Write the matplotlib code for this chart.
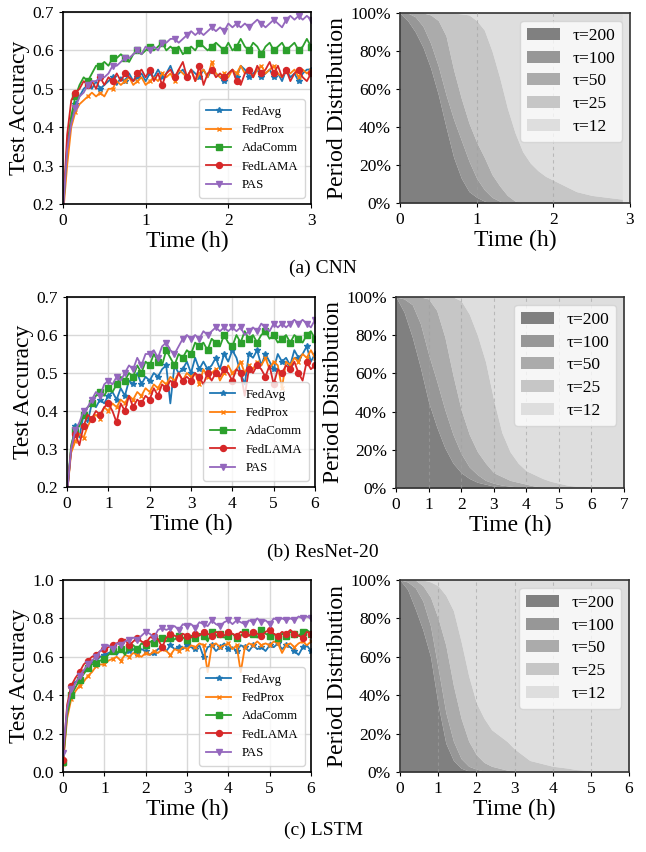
import numpy as np
import matplotlib
matplotlib.use("Agg")
import matplotlib.pyplot as plt

plt.rcParams['font.family'] = ['Liberation Serif', 'DejaVu Serif']
plt.rcParams['mathtext.fontset'] = 'stix'

methods = ["FedAvg", "FedProx", "AdaComm", "FedLAMA", "PAS"]
periods = ["τ=200", "τ=100", "τ=50", "τ=25", "τ=12"]

# ---------------- CNN ----------------
cnn_time = np.round(np.arange(0, 3.0001, 0.05), 3)
cnn_fedavg = [0.18, 0.33, 0.42, 0.46, 0.48, 0.50, 0.51, 0.50, 0.52, 0.50, 0.51, 0.52, 0.53, 0.51, 0.53, 0.52,
              0.54, 0.52, 0.53, 0.54, 0.52, 0.54, 0.53, 0.55, 0.53, 0.54, 0.56, 0.53, 0.54, 0.55, 0.53, 0.55,
              0.54, 0.53, 0.55, 0.53, 0.55, 0.54, 0.53, 0.52, 0.54, 0.55, 0.53, 0.56, 0.55, 0.53, 0.54, 0.55,
              0.53, 0.54, 0.55, 0.53, 0.54, 0.52, 0.55, 0.53, 0.54, 0.52, 0.54, 0.55, 0.55]
cnn_fedprox = [0.17, 0.30, 0.40, 0.44, 0.46, 0.47, 0.48, 0.49, 0.48, 0.49, 0.48, 0.50, 0.50, 0.52, 0.51, 0.52,
               0.53, 0.51, 0.52, 0.53, 0.51, 0.52, 0.53, 0.52, 0.54, 0.53, 0.54, 0.52, 0.55, 0.54, 0.53, 0.55,
               0.52, 0.54, 0.55, 0.53, 0.57, 0.54, 0.53, 0.54, 0.53, 0.55, 0.54, 0.56, 0.54, 0.55, 0.53, 0.55,
               0.56, 0.54, 0.55, 0.56, 0.54, 0.53, 0.55, 0.54, 0.55, 0.53, 0.55, 0.54, 0.55]
cnn_adacomm = [0.18, 0.35, 0.43, 0.48, 0.51, 0.53, 0.52, 0.54, 0.56, 0.56, 0.57, 0.56, 0.58, 0.58, 0.59, 0.58,
               0.57, 0.59, 0.60, 0.59, 0.60, 0.61, 0.60, 0.61, 0.62, 0.60, 0.61, 0.60, 0.61, 0.59, 0.60, 0.61,
               0.60, 0.62, 0.61, 0.60, 0.61, 0.62, 0.61, 0.60, 0.62, 0.60, 0.61, 0.63, 0.61, 0.60, 0.62, 0.61,
               0.59, 0.61, 0.62, 0.60, 0.61, 0.62, 0.60, 0.61, 0.62, 0.60, 0.61, 0.63, 0.61]
cnn_fedlama = [0.18, 0.38, 0.47, 0.49, 0.50, 0.52, 0.51, 0.52, 0.50, 0.53, 0.51, 0.53, 0.52, 0.54, 0.52, 0.54,
               0.53, 0.52, 0.54, 0.55, 0.53, 0.55, 0.52, 0.54, 0.51, 0.54, 0.55, 0.53, 0.55, 0.57, 0.53, 0.55,
               0.52, 0.56, 0.51, 0.54, 0.55, 0.53, 0.54, 0.53, 0.54, 0.55, 0.52, 0.51, 0.54, 0.55, 0.53, 0.56,
               0.54, 0.55, 0.57, 0.54, 0.56, 0.53, 0.55, 0.52, 0.54, 0.55, 0.53, 0.52, 0.54]
cnn_pas = [0.18, 0.34, 0.41, 0.45, 0.48, 0.49, 0.51, 0.52, 0.52, 0.53, 0.53, 0.54, 0.56, 0.56, 0.57, 0.58,
           0.58, 0.59, 0.60, 0.59, 0.61, 0.60, 0.61, 0.60, 0.62, 0.62, 0.63, 0.63, 0.62, 0.63, 0.64, 0.65,
           0.64, 0.65, 0.64, 0.65, 0.66, 0.65, 0.66, 0.65, 0.67, 0.66, 0.67, 0.66, 0.67, 0.66, 0.67, 0.68,
           0.67, 0.66, 0.67, 0.68, 0.67, 0.66, 0.68, 0.69, 0.68, 0.69, 0.68, 0.69, 0.68]

cnn_ptime = np.round(np.arange(0, 2.9001, 0.1), 3)
cnn_tau200_top = [100, 96, 90, 82, 71, 57, 40, 24, 13, 6, 3, 1, 0, 0, 0, 0, 0, 0, 0, 0, 0, 0, 0, 0, 0, 0, 0, 0, 0, 0]
cnn_tau100_top = [100, 100, 98, 93, 84, 72, 57, 44, 33, 22, 13, 7, 3, 1, 0, 0, 0, 0, 0, 0, 0, 0, 0, 0, 0, 0, 0, 0, 0, 0]
cnn_tau50_top = [100, 100, 100, 100, 99, 96, 88, 70, 55, 42, 32, 24, 15, 9, 4, 1, 0, 0, 0, 0, 0, 0, 0, 0, 0, 0, 0, 0, 0, 0]
cnn_tau25_top = [100, 100, 100, 100, 100, 100, 100, 100, 99.5, 99, 96, 91, 80, 66, 50, 37, 27, 21, 17, 14,
                 12, 10, 8, 6, 5, 4, 3.5, 3, 2.5, 2]

# ---------------- ResNet-20 ----------------
res_time = np.round(np.arange(0, 6.0001, 0.1), 3)
res_fedavg = [0.18, 0.30, 0.36, 0.33, 0.39, 0.37, 0.42, 0.41, 0.43, 0.42, 0.44, 0.45, 0.43, 0.46, 0.44, 0.48,
              0.47, 0.50, 0.47, 0.49, 0.48, 0.50, 0.49, 0.51, 0.52, 0.42, 0.52, 0.50, 0.51, 0.53, 0.50, 0.54,
              0.51, 0.53, 0.51, 0.52, 0.54, 0.51, 0.55, 0.53, 0.56, 0.54, 0.50, 0.47, 0.55, 0.54, 0.56, 0.52,
              0.55, 0.53, 0.51, 0.55, 0.53, 0.54, 0.52, 0.56, 0.54, 0.55, 0.57, 0.53, 0.55]
res_fedprox = [0.18, 0.29, 0.32, 0.34, 0.33, 0.36, 0.38, 0.39, 0.38, 0.41, 0.40, 0.42, 0.41, 0.43, 0.42, 0.44,
               0.43, 0.45, 0.44, 0.46, 0.45, 0.47, 0.46, 0.48, 0.47, 0.49, 0.48, 0.50, 0.48, 0.50, 0.49, 0.50,
               0.47, 0.51, 0.49, 0.50, 0.51, 0.48, 0.50, 0.52, 0.50, 0.51, 0.53, 0.50, 0.52, 0.51, 0.53, 0.52,
               0.54, 0.51, 0.53, 0.52, 0.46, 0.53, 0.52, 0.54, 0.53, 0.55, 0.54, 0.56, 0.54]
res_adacomm = [0.18, 0.31, 0.35, 0.36, 0.39, 0.41, 0.42, 0.44, 0.45, 0.44, 0.46, 0.45, 0.47, 0.49, 0.48, 0.50,
               0.49, 0.52, 0.50, 0.53, 0.52, 0.55, 0.53, 0.52, 0.56, 0.54, 0.52, 0.55, 0.54, 0.56, 0.55, 0.58,
               0.57, 0.58, 0.56, 0.59, 0.58, 0.57, 0.60, 0.58, 0.57, 0.60, 0.58, 0.61, 0.59, 0.60, 0.58, 0.60,
               0.61, 0.59, 0.60, 0.58, 0.59, 0.60, 0.58, 0.60, 0.59, 0.58, 0.60, 0.61, 0.59]
res_fedlama = [0.18, 0.30, 0.34, 0.31, 0.36, 0.39, 0.38, 0.40, 0.39, 0.41, 0.42, 0.40, 0.37, 0.42, 0.40, 0.44,
               0.41, 0.43, 0.42, 0.44, 0.43, 0.46, 0.44, 0.47, 0.46, 0.48, 0.47, 0.50, 0.48, 0.49, 0.48, 0.50,
               0.49, 0.47, 0.50, 0.48, 0.50, 0.49, 0.51, 0.50, 0.48, 0.51, 0.50, 0.44, 0.51, 0.50, 0.52, 0.51,
               0.49, 0.52, 0.47, 0.51, 0.50, 0.52, 0.51, 0.53, 0.50, 0.48, 0.53, 0.51, 0.52]
res_pas = [0.18, 0.30, 0.35, 0.37, 0.40, 0.41, 0.43, 0.45, 0.44, 0.47, 0.48, 0.47, 0.49, 0.48, 0.50, 0.52,
           0.51, 0.54, 0.52, 0.55, 0.55, 0.56, 0.54, 0.57, 0.58, 0.56, 0.55, 0.57, 0.59, 0.60, 0.59, 0.60,
           0.59, 0.61, 0.60, 0.61, 0.62, 0.61, 0.62, 0.61, 0.62, 0.61, 0.62, 0.60, 0.61, 0.62, 0.61, 0.63,
           0.62, 0.61, 0.63, 0.62, 0.63, 0.62, 0.63, 0.64, 0.63, 0.64, 0.63, 0.62, 0.64]

res_ptime = np.round(np.arange(0, 7.0001, 0.25), 3)
res_tau200_top = [100, 92, 79, 63, 45, 32, 21, 13, 8, 5, 3, 2, 1, 0.5, 0, 0, 0, 0, 0, 0, 0, 0, 0, 0, 0, 0, 0, 0, 0]
res_tau100_top = [100, 99, 96, 86, 70, 56, 41, 28, 18, 11, 7, 4, 2.5, 1.5, 1, 0.5, 0, 0, 0, 0, 0, 0, 0, 0, 0, 0, 0, 0, 0]
res_tau50_top = [100, 100, 100, 100, 99, 93, 79, 59, 41, 28, 19, 13, 8, 6, 4, 3, 2, 1, 0.5, 0.3, 0, 0, 0, 0, 0, 0, 0, 0, 0]
res_tau25_top = [100, 100, 100, 100, 100, 100, 100, 100, 98, 91, 80, 66, 46, 29, 19, 13, 9, 7, 5, 3.5, 2.5,
                 1.5, 1, 1, 0.5, 0.5, 0.3, 0.2, 0.2]

# ---------------- LSTM ----------------
lstm_time = np.round(np.arange(0, 6.0001, 0.1), 3)
lstm_fedavg = [0.05, 0.32, 0.45, 0.47, 0.48, 0.52, 0.55, 0.57, 0.58, 0.60, 0.61, 0.62, 0.63, 0.61, 0.64, 0.62,
               0.63, 0.64, 0.62, 0.64, 0.63, 0.61, 0.62, 0.64, 0.65, 0.63, 0.66, 0.64, 0.65, 0.64, 0.66, 0.65,
               0.64, 0.66, 0.60, 0.65, 0.66, 0.63, 0.65, 0.67, 0.64, 0.65, 0.63, 0.66, 0.65, 0.63, 0.66, 0.64,
               0.65, 0.63, 0.66, 0.65, 0.67, 0.64, 0.66, 0.65, 0.63, 0.61, 0.65, 0.66, 0.63]
lstm_fedprox = [0.04, 0.28, 0.38, 0.42, 0.45, 0.47, 0.50, 0.52, 0.55, 0.56, 0.56, 0.58, 0.59, 0.60, 0.58, 0.61,
                0.60, 0.62, 0.61, 0.60, 0.62, 0.61, 0.63, 0.62, 0.64, 0.63, 0.61, 0.64, 0.63, 0.65, 0.64, 0.66,
                0.65, 0.67, 0.66, 0.52, 0.66, 0.67, 0.65, 0.66, 0.67, 0.64, 0.66, 0.52, 0.65, 0.67, 0.66, 0.68,
                0.66, 0.67, 0.66, 0.68, 0.67, 0.62, 0.66, 0.67, 0.65, 0.67, 0.68, 0.66, 0.68]
lstm_adacomm = [0.05, 0.30, 0.40, 0.44, 0.48, 0.51, 0.54, 0.56, 0.57, 0.58, 0.59, 0.61, 0.63, 0.62, 0.64, 0.61,
                0.65, 0.66, 0.64, 0.67, 0.66, 0.68, 0.67, 0.69, 0.70, 0.68, 0.70, 0.69, 0.71, 0.70, 0.69, 0.71,
                0.70, 0.72, 0.71, 0.68, 0.73, 0.71, 0.72, 0.70, 0.71, 0.72, 0.70, 0.71, 0.73, 0.71, 0.72, 0.70,
                0.74, 0.72, 0.71, 0.72, 0.70, 0.72, 0.71, 0.73, 0.72, 0.71, 0.73, 0.74, 0.72]
lstm_fedlama = [0.06, 0.35, 0.45, 0.49, 0.52, 0.56, 0.58, 0.60, 0.61, 0.63, 0.64, 0.65, 0.66, 0.67, 0.68, 0.69,
                0.66, 0.68, 0.70, 0.68, 0.67, 0.70, 0.71, 0.69, 0.65, 0.70, 0.72, 0.71, 0.70, 0.72, 0.71, 0.70,
                0.72, 0.71, 0.73, 0.72, 0.71, 0.73, 0.72, 0.71, 0.73, 0.72, 0.71, 0.73, 0.72, 0.71, 0.73, 0.72,
                0.71, 0.73, 0.74, 0.72, 0.71, 0.73, 0.72, 0.74, 0.72, 0.71, 0.70, 0.73, 0.72]
lstm_pas = [0.10, 0.33, 0.43, 0.46, 0.50, 0.53, 0.56, 0.58, 0.60, 0.63, 0.65, 0.66, 0.64, 0.67, 0.66, 0.68,
            0.69, 0.70, 0.69, 0.71, 0.73, 0.72, 0.70, 0.74, 0.75, 0.74, 0.75, 0.76, 0.74, 0.77, 0.76, 0.77,
            0.75, 0.78, 0.77, 0.76, 0.79, 0.77, 0.76, 0.78, 0.79, 0.77, 0.79, 0.78, 0.77, 0.79, 0.78, 0.80,
            0.78, 0.79, 0.77, 0.80, 0.79, 0.80, 0.79, 0.80, 0.79, 0.81, 0.80, 0.81, 0.80]

lstm_ptime = np.round(np.arange(0, 6.0001, 0.2), 3)
lstm_tau200_top = [100, 95, 85, 74, 60, 35, 15, 6, 2, 0.5, 0, 0, 0, 0, 0, 0, 0, 0, 0, 0, 0, 0, 0, 0, 0, 0, 0, 0, 0, 0, 0]
lstm_tau100_top = [100, 99, 96, 89, 76, 54, 31, 16, 7, 3, 1.5, 0.5, 0, 0, 0, 0, 0, 0, 0, 0, 0, 0, 0, 0, 0, 0, 0, 0, 0, 0, 0]
lstm_tau50_top = [100, 100, 100, 97, 91, 80, 66, 45, 28, 16, 9, 5, 3, 2, 1, 0.5, 0, 0, 0, 0, 0, 0, 0, 0, 0, 0, 0, 0, 0, 0, 0]
lstm_tau25_top = [100, 100, 100, 100, 99, 97, 92, 84, 68, 50, 36, 28, 22, 19, 16, 12, 9, 6, 5, 4, 3, 2.5, 2,
                  1.3, 1, 0.6, 0.3, 0.2, 0.1, 0, 0]

# ---------------- styling ----------------
colors = ["#1f77b4", "#ff7f0e", "#2ca02c", "#d62728", "#9467bd"]
markers = ["*", "x", "s", "o", "v"]
msizes = [4.0, 3.5, 4.0, 4.3, 4.5]
fill_colors = ["#808080", "#979797", "#ababab", "#c6c6c6", "#dedede"]

fig = plt.figure(figsize=(6.46, 8.52), dpi=100)
W, H = 646, 852


def add_axes(x0, x1, ytop, ybot):
    return fig.add_axes([x0 / W, 1 - ybot / H, (x1 - x0) / W, (ybot - ytop) / H])


def draw_acc(ax, t, series, xmax, ylim, yticks, markevery):
    for s, name, c, m, ms in zip(series, methods, colors, markers, msizes):
        ax.plot(t, s, color=c, marker=m, markersize=ms, markevery=markevery, lw=1.3,
                label=name, clip_on=True)
    ax.set_xlim(0, xmax)
    ax.set_ylim(*ylim)
    ax.set_yticks(yticks)
    ax.set_xticks(range(0, int(xmax) + 1))
    ax.grid(True, color="#d8d8d8", lw=1.0)
    ax.set_axisbelow(True)
    ax.tick_params(labelsize=12.5, length=3)
    ax.set_xlabel("Time (h)", fontsize=17, labelpad=1)
    ax.set_ylabel("Test Accuracy", fontsize=17, labelpad=2)
    for sp in ax.spines.values():
        sp.set_linewidth(1.2)
    ax.legend(loc="lower right", fontsize=9.2, frameon=True, fancybox=True,
              framealpha=0.8, borderpad=0.5, handlelength=2.0)


def draw_period(ax, t, tops, xmax):
    bounds = [np.zeros(len(t))] + [np.asarray(b, dtype=float) for b in tops] + [np.full(len(t), 100.0)]
    for i in range(5):
        ax.fill_between(t, bounds[i], bounds[i + 1], color=fill_colors[i], lw=0,
                        label=periods[i])
    ax.set_facecolor("#e4e4e4")
    ax.set_xlim(0, xmax)
    ax.set_ylim(0, 100)
    ax.set_xticks(range(0, int(xmax) + 1))
    ax.set_yticks([0, 20, 40, 60, 80, 100])
    ax.set_yticklabels(["0%", "20%", "40%", "60%", "80%", "100%"])
    for xv in range(1, int(xmax)):
        ax.axvline(xv, color="#a0a0a0", lw=0.8, ls=(0, (3, 3)), alpha=0.6, zorder=3)
    ax.tick_params(labelsize=12.5, length=3)
    ax.set_xlabel("Time (h)", fontsize=17, labelpad=1)
    ax.set_ylabel("Period Distribution", fontsize=17, labelpad=2)
    for sp in ax.spines.values():
        sp.set_linewidth(1.2)
        sp.set_color("#333333")
    ax.legend(loc="upper right", fontsize=12.5, frameon=True, fancybox=True, framealpha=0.75,
              handlelength=1.9, handleheight=0.7, labelspacing=0.38, borderpad=0.4,
              handletextpad=0.7, borderaxespad=0.45, edgecolor="#d0d0d0")


# Row 1: CNN
ax = add_axes(63, 311, 12, 204)
draw_acc(ax, cnn_time, [cnn_fedavg, cnn_fedprox, cnn_adacomm, cnn_fedlama, cnn_pas],
         3, (0.2, 0.7), [0.2, 0.3, 0.4, 0.5, 0.6, 0.7], 3)
ax = add_axes(400, 630, 13, 203)
draw_period(ax, cnn_ptime, [cnn_tau200_top, cnn_tau100_top, cnn_tau50_top, cnn_tau25_top], 3)
fig.text(323 / W, 1 - 268 / H, "(a) CNN", ha="center", va="center", fontsize=14)

# Row 2: ResNet-20
ax = add_axes(67, 315, 297, 487)
draw_acc(ax, res_time, [res_fedavg, res_fedprox, res_adacomm, res_fedlama, res_pas],
         6, (0.2, 0.7), [0.2, 0.3, 0.4, 0.5, 0.6, 0.7], 2)
ax = add_axes(396, 624, 297, 488)
draw_period(ax, res_ptime, [res_tau200_top, res_tau100_top, res_tau50_top, res_tau25_top], 7)
fig.text(323 / W, 1 - 552 / H, "(b) ResNet-20", ha="center", va="center", fontsize=14)

# Row 3: LSTM
ax = add_axes(63, 311, 580, 772)
draw_acc(ax, lstm_time, [lstm_fedavg, lstm_fedprox, lstm_adacomm, lstm_fedlama, lstm_pas],
         6, (0.0, 1.0), [0.0, 0.2, 0.4, 0.6, 0.8, 1.0], 2)
ax = add_axes(400, 629, 580, 772)
draw_period(ax, lstm_ptime, [lstm_tau200_top, lstm_tau100_top, lstm_tau50_top, lstm_tau25_top], 6)
fig.text(323 / W, 1 - 830 / H, "(c) LSTM", ha="center", va="center", fontsize=14)

fig.savefig("out.png", dpi=100)
